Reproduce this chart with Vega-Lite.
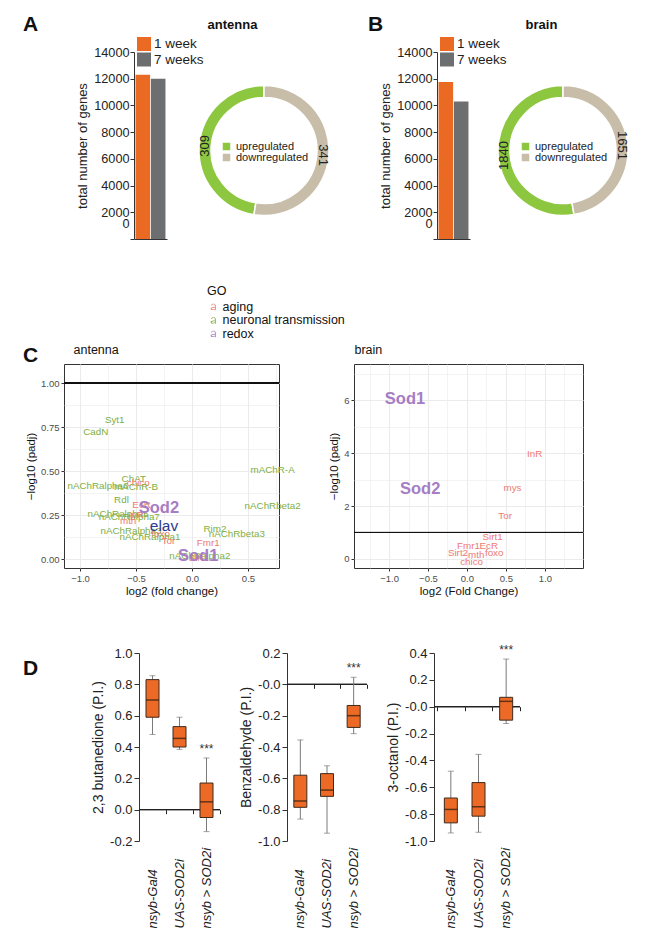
{
"$schema": "https://vega.github.io/schema/vega-lite/v6.json",
"background": "white",
"padding": {"left": 22, "top": 14, "right": 0, "bottom": 0},
"config": {"font": "Liberation Sans", "view": {"stroke": null}, "axis": {"labelFont": "Liberation Sans", "titleFont": "Liberation Sans"}, "legend": {"labelFont": "Liberation Sans", "titleFont": "Liberation Sans"}, "title": {"font": "Liberation Sans"}, "text": {"font": "Liberation Sans"}},
"datasets": {
 "bars": [
  {"tissue": "antenna", "week": "1 week", "genes": 12300},
  {"tissue": "antenna", "week": "7 weeks", "genes": 12000},
  {"tissue": "brain", "week": "1 week", "genes": 11750},
  {"tissue": "brain", "week": "7 weeks", "genes": 10300}
 ],
 "donut": [
  {"tissue": "antenna", "dir": "upregulated", "n": 309},
  {"tissue": "antenna", "dir": "downregulated", "n": 341},
  {"tissue": "brain", "dir": "upregulated", "n": 1840},
  {"tissue": "brain", "dir": "downregulated", "n": 1651}
 ],
 "volcano": [
  {"tissue": "antenna", "gene": "Syt1", "GO": "neuronal transmission", "lfc": -0.69, "nlp": 0.79},
  {"tissue": "antenna", "gene": "CadN", "GO": "neuronal transmission", "lfc": -0.86, "nlp": 0.72},
  {"tissue": "antenna", "gene": "mAChR-A", "GO": "neuronal transmission", "lfc": 0.72, "nlp": 0.505},
  {"tissue": "antenna", "gene": "nAChRbeta2", "GO": "neuronal transmission", "lfc": 0.72, "nlp": 0.30},
  {"tissue": "antenna", "gene": "nAChRalpha6", "GO": "neuronal transmission", "lfc": -0.84, "nlp": 0.415},
  {"tissue": "antenna", "gene": "ChAT", "GO": "neuronal transmission", "lfc": -0.52, "nlp": 0.455},
  {"tissue": "antenna", "gene": "chico", "GO": "aging", "lfc": -0.48, "nlp": 0.43},
  {"tissue": "antenna", "gene": "mAChR-B", "GO": "neuronal transmission", "lfc": -0.50, "nlp": 0.41},
  {"tissue": "antenna", "gene": "Rdl", "GO": "neuronal transmission", "lfc": -0.63, "nlp": 0.335},
  {"tissue": "antenna", "gene": "EcR", "GO": "aging", "lfc": -0.45, "nlp": 0.305},
  {"tissue": "antenna", "gene": "nAChRalpha5", "GO": "neuronal transmission", "lfc": -0.66, "nlp": 0.255},
  {"tissue": "antenna", "gene": "nAChRalpha7", "GO": "neuronal transmission", "lfc": -0.56, "nlp": 0.24},
  {"tissue": "antenna", "gene": "InR", "GO": "aging", "lfc": -0.5, "nlp": 0.25},
  {"tissue": "antenna", "gene": "mth", "GO": "aging", "lfc": -0.57, "nlp": 0.215},
  {"tissue": "antenna", "gene": "nAChRalpha3", "GO": "neuronal transmission", "lfc": -0.545, "nlp": 0.16},
  {"tissue": "antenna", "gene": "foxo", "GO": "aging", "lfc": -0.28, "nlp": 0.14},
  {"tissue": "antenna", "gene": "nAChRalpha1", "GO": "neuronal transmission", "lfc": -0.375, "nlp": 0.125},
  {"tissue": "antenna", "gene": "Tor", "GO": "aging", "lfc": -0.21, "nlp": 0.10},
  {"tissue": "antenna", "gene": "Rim2", "GO": "neuronal transmission", "lfc": 0.205, "nlp": 0.17},
  {"tissue": "antenna", "gene": "nAChRbeta3", "GO": "neuronal transmission", "lfc": 0.40, "nlp": 0.14},
  {"tissue": "antenna", "gene": "Fmr1", "GO": "aging", "lfc": 0.145, "nlp": 0.09},
  {"tissue": "antenna", "gene": "nAChRalpha2", "GO": "neuronal transmission", "lfc": 0.07, "nlp": 0.02},
  {"tissue": "antenna", "gene": "Sirt1", "GO": "aging", "lfc": 0.06, "nlp": 0.005},
  {"tissue": "antenna", "gene": "elav", "GO": "neuronal transmission", "lfc": -0.25, "nlp": 0.19},
  {"tissue": "antenna", "gene": "Sod2", "GO": "redox", "lfc": -0.295, "nlp": 0.29},
  {"tissue": "antenna", "gene": "Sod1", "GO": "redox", "lfc": 0.055, "nlp": 0.02},
  {"tissue": "brain", "gene": "InR", "GO": "aging", "lfc": 0.87, "nlp": 3.96},
  {"tissue": "brain", "gene": "mys", "GO": "aging", "lfc": 0.585, "nlp": 2.68},
  {"tissue": "brain", "gene": "Tor", "GO": "aging", "lfc": 0.49, "nlp": 1.61},
  {"tissue": "brain", "gene": "Sirt1", "GO": "aging", "lfc": 0.33, "nlp": 0.83},
  {"tissue": "brain", "gene": "Fmr1", "GO": "aging", "lfc": 0.02, "nlp": 0.48},
  {"tissue": "brain", "gene": "EcR", "GO": "aging", "lfc": 0.28, "nlp": 0.48},
  {"tissue": "brain", "gene": "Sirt2", "GO": "aging", "lfc": -0.115, "nlp": 0.24},
  {"tissue": "brain", "gene": "mth", "GO": "aging", "lfc": 0.12, "nlp": 0.16},
  {"tissue": "brain", "gene": "foxo", "GO": "aging", "lfc": 0.35, "nlp": 0.23},
  {"tissue": "brain", "gene": "chico", "GO": "aging", "lfc": 0.06, "nlp": -0.11},
  {"tissue": "brain", "gene": "Sod1", "GO": "redox", "lfc": -0.795, "nlp": 6.05},
  {"tissue": "brain", "gene": "Sod2", "GO": "redox", "lfc": -0.60, "nlp": 2.63}
 ],
 "box": [
  {"odor": "butanedione", "genotype": "nsyb-Gal4", "lo": 0.48, "q1": 0.59, "med": 0.70, "q3": 0.83, "hi": 0.855, "sig": ""},
  {"odor": "butanedione", "genotype": "UAS-SOD2i", "lo": 0.385, "q1": 0.40, "med": 0.455, "q3": 0.53, "hi": 0.59, "sig": ""},
  {"odor": "butanedione", "genotype": "nsyb > SOD2i", "lo": -0.14, "q1": -0.05, "med": 0.05, "q3": 0.17, "hi": 0.33, "sig": "***"},
  {"odor": "benzaldehyde", "genotype": "nsyb-Gal4", "lo": -0.86, "q1": -0.785, "med": -0.745, "q3": -0.58, "hi": -0.355, "sig": ""},
  {"odor": "benzaldehyde", "genotype": "UAS-SOD2i", "lo": -0.95, "q1": -0.715, "med": -0.675, "q3": -0.57, "hi": -0.52, "sig": ""},
  {"odor": "benzaldehyde", "genotype": "nsyb > SOD2i", "lo": -0.315, "q1": -0.275, "med": -0.20, "q3": -0.135, "hi": 0.045, "sig": "***"},
  {"odor": "octanol", "genotype": "nsyb-Gal4", "lo": -0.94, "q1": -0.865, "med": -0.765, "q3": -0.68, "hi": -0.48, "sig": ""},
  {"odor": "octanol", "genotype": "UAS-SOD2i", "lo": -0.935, "q1": -0.815, "med": -0.745, "q3": -0.565, "hi": -0.355, "sig": ""},
  {"odor": "octanol", "genotype": "nsyb > SOD2i", "lo": -0.125, "q1": -0.10, "med": 0.04, "q3": 0.07, "hi": 0.355, "sig": "***"}
 ]
},
"spacing": 35,
"resolve": {"scale": {"color": "independent"}, "legend": {"color": "independent"}},
"vconcat": [
 {
  "hconcat": [
   {"width": 27, "height": 10, "data": {"values": []}, "mark": "point"},
   {
    "width": 260, "height": 197,
    "title": {"text": "A", "anchor": "start", "frame": "group", "dx": -111, "dy": 21, "fontSize": 21, "fontWeight": "bold", "color": "#111111"},
    "resolve": {"scale": {"color": "independent"}, "legend": {"color": "independent"}},
    "layer": [
     {
      "data": {"name": "bars"},
      "transform": [{"filter": "datum.tissue == 'antenna'"}],
      "mark": {"type": "bar"},
      "encoding": {
       "x": {"field": "week", "type": "nominal", "scale": {"range": [0, 33], "paddingInner": 0.05, "paddingOuter": 0.1}, "axis": {"orient": "bottom", "offset": -10, "labels": false, "ticks": false, "title": null, "grid": false, "domainColor": "#333333"}},
       "y": {"field": "genes", "type": "quantitative", "scale": {"domain": [0, 14000], "range": [187, 0], "nice": false}, "axis": {"values": [0, 2000, 4000, 6000, 8000, 10000, 12000, 14000], "format": "d", "labelOverlap": false, "labelFlush": false, "title": "total number of genes", "titleFontSize": 13, "titleFontWeight": "normal", "titleColor": "#222222", "titlePadding": 4, "labelFontSize": 12.7, "labelColor": "#222222", "labelPadding": 1, "tickSize": 4, "tickColor": "#333333", "domainColor": "#333333", "grid": false, "labelOffset": {"condition": {"test": "datum.value == 0", "value": -16}, "value": 0}}},
       "color": {"field": "week", "type": "nominal", "scale": {"domain": ["1 week", "7 weeks"], "range": ["#EA6A24", "#6D6E70"]}, "legend": {"orient": "none", "legendX": 3, "legendY": -15, "title": null, "padding": 0, "symbolType": "square", "symbolSize": 196, "symbolStrokeWidth": 0, "labelFontSize": 13.5, "labelColor": "#222222", "labelOffset": 3, "rowPadding": 1.5}}
      }
     },
     {
      "data": {"name": "bars"},
      "transform": [{"filter": "datum.tissue == 'antenna'"}],
      "mark": {"type": "rule", "opacity": 0},
      "encoding": {"x": {"field": "week", "type": "nominal", "axis": {"orient": "top", "labels": false, "ticks": false, "domain": false, "grid": false, "title": "antenna", "titleX": 98, "titleY": -24, "titleAlign": "center", "titleBaseline": "alphabetic", "titleAngle": 0, "titleFontSize": 13, "titleFontWeight": "bold", "titleColor": "#111111"}}}
     },
     {
      "data": {"name": "donut"},
      "transform": [{"filter": "datum.tissue == 'antenna'"}],
      "encoding": {"theta": {"field": "n", "type": "quantitative", "stack": true}, "order": {"field": "dir", "sort": "ascending"}},
      "layer": [
       {"mark": {"type": "arc", "innerRadius": 53, "outerRadius": 65, "stroke": "#ffffff", "strokeWidth": 1.5},
        "encoding": {"color": {"field": "dir", "type": "nominal", "scale": {"domain": ["upregulated", "downregulated"], "range": ["#8DC63F", "#C8BDA8"]}, "legend": {"orient": "none", "legendX": 87, "legendY": 89, "title": null, "padding": 0, "symbolType": "square", "symbolSize": 56, "symbolStrokeWidth": 0, "labelFontSize": 11, "labelColor": "#222222", "labelOffset": 4, "rowPadding": -1}}}},
       {"mark": {"type": "text", "radius": 59, "fontSize": 13, "color": "#222222"},
        "encoding": {"detail": {"field": "dir"}, "text": {"field": "n", "type": "quantitative", "format": "d"}, "angle": {"condition": {"test": "datum.dir == 'upregulated'", "value": 270}, "value": 90}}}
      ]
     }
    ]
   },
   {
    "width": 252, "height": 197,
    "title": {"text": "B", "anchor": "start", "frame": "group", "dx": -69, "dy": 21, "fontSize": 21, "fontWeight": "bold", "color": "#111111"},
    "resolve": {"scale": {"color": "independent"}, "legend": {"color": "independent"}},
    "layer": [
     {
      "data": {"name": "bars"},
      "transform": [{"filter": "datum.tissue == 'brain'"}],
      "mark": {"type": "bar"},
      "encoding": {
       "x": {"field": "week", "type": "nominal", "scale": {"range": [0, 33], "paddingInner": 0.05, "paddingOuter": 0.1}, "axis": {"orient": "bottom", "offset": -10, "labels": false, "ticks": false, "title": null, "grid": false, "domainColor": "#333333"}},
       "y": {"field": "genes", "type": "quantitative", "scale": {"domain": [0, 14000], "range": [187, 0], "nice": false}, "axis": {"values": [0, 2000, 4000, 6000, 8000, 10000, 12000, 14000], "format": "d", "labelOverlap": false, "labelFlush": false, "title": "total number of genes", "titleFontSize": 13, "titleFontWeight": "normal", "titleColor": "#222222", "titlePadding": 4, "labelFontSize": 12.7, "labelColor": "#222222", "labelPadding": 1, "tickSize": 4, "tickColor": "#333333", "domainColor": "#333333", "grid": false, "labelOffset": {"condition": {"test": "datum.value == 0", "value": -16}, "value": 0}}},
       "color": {"field": "week", "type": "nominal", "scale": {"domain": ["1 week", "7 weeks"], "range": ["#EA6A24", "#6D6E70"]}, "legend": {"orient": "none", "legendX": 3, "legendY": -15, "title": null, "padding": 0, "symbolType": "square", "symbolSize": 196, "symbolStrokeWidth": 0, "labelFontSize": 13.5, "labelColor": "#222222", "labelOffset": 3, "rowPadding": 1.5}}
      }
     },
     {
      "data": {"name": "bars"},
      "transform": [{"filter": "datum.tissue == 'brain'"}],
      "mark": {"type": "rule", "opacity": 0},
      "encoding": {"x": {"field": "week", "type": "nominal", "axis": {"orient": "top", "labels": false, "ticks": false, "domain": false, "grid": false, "title": "brain", "titleX": 104, "titleY": -24, "titleAlign": "center", "titleBaseline": "alphabetic", "titleAngle": 0, "titleFontSize": 13, "titleFontWeight": "bold", "titleColor": "#111111"}}}
     },
     {
      "data": {"name": "donut"},
      "transform": [{"filter": "datum.tissue == 'brain'"}],
      "encoding": {"theta": {"field": "n", "type": "quantitative", "stack": true}, "order": {"field": "dir", "sort": "ascending"}},
      "layer": [
       {"mark": {"type": "arc", "innerRadius": 53, "outerRadius": 65, "stroke": "#ffffff", "strokeWidth": 1.5},
        "encoding": {"color": {"field": "dir", "type": "nominal", "scale": {"domain": ["upregulated", "downregulated"], "range": ["#8DC63F", "#C8BDA8"]}, "legend": {"orient": "none", "legendX": 83, "legendY": 89, "title": null, "padding": 0, "symbolType": "square", "symbolSize": 56, "symbolStrokeWidth": 0, "labelFontSize": 11, "labelColor": "#222222", "labelOffset": 4, "rowPadding": -1}}}},
       {"mark": {"type": "text", "radius": 59, "fontSize": 13, "color": "#222222"},
        "encoding": {"detail": {"field": "dir"}, "text": {"field": "n", "type": "quantitative", "format": "d"}, "angle": {"condition": {"test": "datum.dir == 'upregulated'", "value": 270}, "value": 90}}}
      ]
     }
    ]
   }
  ],
  "spacing": 43,
  "bounds": "flush"
 },
 {
  "resolve": {"scale": {"color": "independent"}, "legend": {"color": "independent"}},
  "hconcat": [
   {
    "width": 215, "height": 204,
    "view": {"stroke": "#333333", "strokeWidth": 1},
    "title": {"text": "C", "anchor": "start", "frame": "group", "dx": -41, "dy": 85, "fontSize": 21, "fontWeight": "bold", "color": "#111111"},
    "data": {"name": "volcano"},
    "transform": [{"filter": "datum.tissue == 'antenna'"}],
    "resolve": {"axis": {"x": "independent", "y": "independent"}},
    "layer": [
     {
      "mark": {"type": "rule", "color": "#111111", "strokeWidth": 1},
      "encoding": {"y": {"datum": 1, "type": "quantitative", "scale": {"domain": [-0.051, 1.108], "nice": false, "zero": false},
        "axis": {"values": [0, 0.125, 0.25, 0.375, 0.5, 0.625, 0.75, 0.875, 1], "labelExpr": "round(datum.value*4) == datum.value*4 ? format(datum.value, '.2f') : ''", "labelOverlap": false, "labelFlush": false, "grid": true, "gridColor": "#ebebeb", "gridWidth": {"condition": {"test": "round(datum.value*4) != datum.value*4", "value": 0.6}, "value": 1.1}, "tickOpacity": {"condition": {"test": "round(datum.value*4) != datum.value*4", "value": 0}, "value": 1}, "tickSize": 3, "tickColor": "#333333", "domain": false, "labelFontSize": 9.5, "labelColor": "#4d4d4d", "labelPadding": 2, "title": "−log10 (padj)", "titleFontSize": 11.5, "titleFontWeight": "normal", "titleColor": "#111111", "titlePadding": 4}}}
     },
     {
      "transform": [{"filter": "datum.gene != 'Sod1' && datum.gene != 'Sod2'"}],
      "mark": {"type": "text", "fontSize": 9.8},
      "encoding": {
       "x": {"field": "lfc", "type": "quantitative", "scale": {"domain": [-1.143, 0.777], "nice": false, "zero": false},
        "axis": {"orient": "bottom", "values": [-1, -0.75, -0.5, -0.25, 0, 0.25, 0.5, 0.75], "labelExpr": "round(datum.value*2) == datum.value*2 ? format(datum.value, '.1f') : ''", "labelOverlap": false, "labelFlush": false, "grid": true, "gridColor": "#ebebeb", "gridWidth": {"condition": {"test": "round(datum.value*2) != datum.value*2", "value": 0.6}, "value": 1.1}, "tickOpacity": {"condition": {"test": "round(datum.value*2) != datum.value*2", "value": 0}, "value": 1}, "tickSize": 3, "tickColor": "#333333", "domain": false, "labelFontSize": 9.5, "labelColor": "#4d4d4d", "labelPadding": 2, "title": "log2 (fold change)", "titleFontSize": 11.5, "titleFontWeight": "normal", "titleColor": "#111111", "titlePadding": 3}},
       "y": {"field": "nlp", "type": "quantitative", "axis": null},
       "text": {"field": "gene"},
       "size": {"condition": {"test": "datum.gene == 'elav'", "value": 15.5}, "value": 9.8},
       "color": {"condition": {"test": "datum.gene == 'elav'", "value": "#2B3990"}, "field": "GO", "type": "nominal", "scale": {"domain": ["aging", "neuronal transmission", "redox"], "range": ["#EE7A72", "#7EAE3F", "#A67DC4"]},
        "legend": {"orient": "none", "legendX": 143, "legendY": -79, "title": "GO", "padding": 0, "titleFontSize": 12.5, "titleFontWeight": "normal", "titleColor": "#111111", "titlePadding": 3, "labelFontSize": 12.5, "labelColor": "#111111", "labelOffset": 3, "rowPadding": 0.5, "symbolSize": 50, "symbolStrokeWidth": 0, "symbolOpacity": 1, "symbolType": "M0.45,-0.3 L0.72,-0.3 L0.72,1 L0.45,1 Z M-0.62,-0.4 C-0.55,-1.05 0.72,-1.05 0.72,-0.3 L0.45,-0.3 C0.45,-0.78 -0.3,-0.8 -0.36,-0.35 Z M0.5,0.05 C0.1,0.1 -0.75,0.05 -0.75,0.55 C-0.75,1.05 0.2,1.05 0.5,0.65 L0.5,0.4 C0.25,0.8 -0.48,0.85 -0.48,0.52 C-0.48,0.25 0.1,0.3 0.5,0.25 Z"}}
      }
     },
     {
      "transform": [{"filter": "datum.gene == 'Sod1' || datum.gene == 'Sod2'"}],
      "mark": {"type": "text", "fontSize": 16.5, "fontWeight": "bold"},
      "encoding": {
       "x": {"field": "lfc", "type": "quantitative", "axis": null},
       "y": {"field": "nlp", "type": "quantitative", "axis": null},
       "text": {"field": "gene"},
       "color": {"field": "GO", "type": "nominal", "legend": null}
      }
     },
     {
      "mark": {"type": "rule", "opacity": 0},
      "encoding": {"x": {"datum": 0, "type": "quantitative", "axis": {"orient": "top", "labels": false, "ticks": false, "domain": false, "grid": false, "title": "antenna", "titleX": 9, "titleY": -11, "titleAlign": "left", "titleBaseline": "alphabetic", "titleAngle": 0, "titleFontSize": 12.5, "titleFontWeight": "normal", "titleColor": "#111111"}}}
     }
    ]
   },
   {
    "width": 229, "height": 204,
    "view": {"stroke": "#333333", "strokeWidth": 1},
    "data": {"name": "volcano"},
    "transform": [{"filter": "datum.tissue == 'brain'"}],
    "resolve": {"axis": {"x": "independent", "y": "independent"}},
    "layer": [
     {
      "mark": {"type": "rule", "color": "#111111", "strokeWidth": 1},
      "encoding": {"y": {"datum": 1, "type": "quantitative", "scale": {"domain": [-0.34, 7.36], "nice": false, "zero": false},
        "axis": {"values": [0, 1, 2, 3, 4, 5, 6, 7], "labelExpr": "datum.value % 2 == 0 ? format(datum.value, 'd') : ''", "labelOverlap": false, "labelFlush": false, "grid": true, "gridColor": "#ebebeb", "gridWidth": {"condition": {"test": "datum.value % 2 != 0", "value": 0.6}, "value": 1.1}, "tickOpacity": {"condition": {"test": "datum.value % 2 != 0", "value": 0}, "value": 1}, "tickSize": 3, "tickColor": "#333333", "domain": false, "labelFontSize": 9.5, "labelColor": "#4d4d4d", "labelPadding": 2, "title": "−log10 (padj)", "titleFontSize": 11.5, "titleFontWeight": "normal", "titleColor": "#111111", "titlePadding": 4}}}
     },
     {
      "transform": [{"filter": "datum.gene != 'Sod1' && datum.gene != 'Sod2'"}],
      "mark": {"type": "text", "fontSize": 9.8},
      "encoding": {
       "x": {"field": "lfc", "type": "quantitative", "scale": {"domain": [-1.45, 1.49], "nice": false, "zero": false},
        "axis": {"orient": "bottom", "values": [-1.25, -1, -0.75, -0.5, -0.25, 0, 0.25, 0.5, 0.75, 1, 1.25], "labelExpr": "round(datum.value*2) == datum.value*2 ? format(datum.value, '.1f') : ''", "labelOverlap": false, "labelFlush": false, "grid": true, "gridColor": "#ebebeb", "gridWidth": {"condition": {"test": "round(datum.value*2) != datum.value*2", "value": 0.6}, "value": 1.1}, "tickOpacity": {"condition": {"test": "round(datum.value*2) != datum.value*2", "value": 0}, "value": 1}, "tickSize": 3, "tickColor": "#333333", "domain": false, "labelFontSize": 9.5, "labelColor": "#4d4d4d", "labelPadding": 2, "title": "log2 (Fold Change)", "titleFontSize": 11.5, "titleFontWeight": "normal", "titleColor": "#111111", "titlePadding": 3}},
       "y": {"field": "nlp", "type": "quantitative", "axis": null},
       "text": {"field": "gene"},
       "color": {"field": "GO", "type": "nominal", "scale": {"domain": ["aging", "neuronal transmission", "redox"], "range": ["#EE7A72", "#7EAE3F", "#A67DC4"]}, "legend": null}
      }
     },
     {
      "transform": [{"filter": "datum.gene == 'Sod1' || datum.gene == 'Sod2'"}],
      "mark": {"type": "text", "fontSize": 16.5, "fontWeight": "bold"},
      "encoding": {
       "x": {"field": "lfc", "type": "quantitative", "axis": null},
       "y": {"field": "nlp", "type": "quantitative", "axis": null},
       "text": {"field": "gene"},
       "color": {"field": "GO", "type": "nominal", "legend": null}
      }
     },
     {
      "mark": {"type": "rule", "opacity": 0},
      "encoding": {"x": {"datum": 0, "type": "quantitative", "axis": {"orient": "top", "labels": false, "ticks": false, "domain": false, "grid": false, "title": "brain", "titleX": 0, "titleY": -11, "titleAlign": "left", "titleBaseline": "alphabetic", "titleAngle": 0, "titleFontSize": 12.5, "titleFontWeight": "normal", "titleColor": "#111111"}}}
     }
    ]
   }
  ],
  "spacing": 75,
  "bounds": "flush"
 },
 {
  "hconcat": [
   {"width": 8, "height": 10, "data": {"values": []}, "mark": "point"},
   {
    "width": 81, "height": 208,
    "title": {"text": "D", "anchor": "start", "frame": "group", "dx": -116, "dy": 50, "fontSize": 21, "fontWeight": "bold", "color": "#111111"},
    "data": {"name": "box"},
    "transform": [{"filter": "datum.odor == 'butanedione'"}],
    "resolve": {"axis": {"x": "independent", "y": "independent"}},
    "layer": [
     {"mark": {"type": "rule", "color": "#222222", "strokeWidth": 1},
      "encoding": {"y": {"datum": 0, "type": "quantitative", "scale": {"domain": [-0.2, 1.0], "range": [208, 20], "nice": false, "zero": false},
       "axis": {"values": [-0.2, 0, 0.2, 0.4, 0.6, 0.8, 1], "labelExpr": "replace(format(datum.value, '.1f'), '−', '-')", "labelOverlap": false, "labelFlush": false, "title": "2,3 butanedione (P.I.)", "titleFontSize": 14, "titleFontWeight": "normal", "titleColor": "#222222", "titlePadding": 4, "labelFontSize": 13, "labelColor": "#222222", "labelPadding": 2, "tickSize": 5, "tickColor": "#333333", "domainColor": "#333333", "grid": false}}}},
     {"mark": {"type": "rule", "opacity": 0},
      "encoding": {"x": {"field": "genotype", "type": "nominal", "sort": ["nsyb-Gal4", "UAS-SOD2i", "nsyb > SOD2i"], "axis": {"orient": "bottom", "offset": -31.3, "labels": false, "domain": false, "ticks": true, "tickBand": "extent", "tickSize": 4, "tickColor": "#222222", "title": null, "grid": false}}}},
     {"mark": {"type": "rule", "color": "#7a7a7a", "strokeWidth": 1},
      "encoding": {"x": {"field": "genotype", "type": "nominal", "sort": ["nsyb-Gal4", "UAS-SOD2i", "nsyb > SOD2i"], "scale": {"range": [0, 81], "paddingInner": 0, "paddingOuter": 0},
        "axis": {"orient": "bottom", "labelAngle": 270, "labelAlign": "left", "labelBaseline": "middle", "labelPadding": 87, "ticks": false, "domain": false, "grid": false, "title": null, "labelFontStyle": "italic", "labelFontSize": 13, "labelColor": "#222222", "labelLimit": 200}},
       "y": {"field": "lo", "type": "quantitative", "axis": null}, "y2": {"field": "hi"}}},
     {"mark": {"type": "tick", "color": "#7a7a7a", "size": 6, "thickness": 1},
      "encoding": {"x": {"field": "genotype", "type": "nominal", "sort": ["nsyb-Gal4", "UAS-SOD2i", "nsyb > SOD2i"], "axis": null}, "y": {"field": "lo", "type": "quantitative", "axis": null}}},
     {"mark": {"type": "tick", "color": "#7a7a7a", "size": 6, "thickness": 1},
      "encoding": {"x": {"field": "genotype", "type": "nominal", "sort": ["nsyb-Gal4", "UAS-SOD2i", "nsyb > SOD2i"], "axis": null}, "y": {"field": "hi", "type": "quantitative", "axis": null}}},
     {"mark": {"type": "bar", "size": 13, "fill": "#EC6A25", "stroke": "#3d2a1e", "strokeWidth": 1},
      "encoding": {"x": {"field": "genotype", "type": "nominal", "sort": ["nsyb-Gal4", "UAS-SOD2i", "nsyb > SOD2i"], "axis": null}, "y": {"field": "q1", "type": "quantitative", "axis": null}, "y2": {"field": "q3"}}},
     {"mark": {"type": "tick", "color": "#2a1a10", "size": 13, "thickness": 1.5},
      "encoding": {"x": {"field": "genotype", "type": "nominal", "sort": ["nsyb-Gal4", "UAS-SOD2i", "nsyb > SOD2i"], "axis": null}, "y": {"field": "med", "type": "quantitative", "axis": null}}},
     {"mark": {"type": "text", "dy": -9, "fontSize": 12, "color": "#333333"},
      "encoding": {"x": {"field": "genotype", "type": "nominal", "sort": ["nsyb-Gal4", "UAS-SOD2i", "nsyb > SOD2i"], "axis": null}, "y": {"field": "hi", "type": "quantitative", "axis": null}, "text": {"field": "sig"}}}
    ]
   },
   {
    "width": 80, "height": 208,
    "data": {"name": "box"},
    "transform": [{"filter": "datum.odor == 'benzaldehyde'"}],
    "resolve": {"axis": {"x": "independent", "y": "independent"}},
    "layer": [
     {"mark": {"type": "rule", "color": "#222222", "strokeWidth": 1},
      "encoding": {"y": {"datum": 0, "type": "quantitative", "scale": {"domain": [-1.0, 0.2], "range": [208, 20], "nice": false, "zero": false},
       "axis": {"values": [-1, -0.8, -0.6, -0.4, -0.2, 0, 0.2], "labelExpr": "datum.value == 0 ? '-0.0' : replace(format(datum.value, '.1f'), '−', '-')", "labelOverlap": false, "labelFlush": false, "title": "Benzaldehyde (P.I.)", "titleFontSize": 14, "titleFontWeight": "normal", "titleColor": "#222222", "titlePadding": 4, "labelFontSize": 13, "labelColor": "#222222", "labelPadding": 2, "tickSize": 5, "tickColor": "#333333", "domainColor": "#333333", "grid": false}}}},
     {"mark": {"type": "rule", "opacity": 0},
      "encoding": {"x": {"field": "genotype", "type": "nominal", "sort": ["nsyb-Gal4", "UAS-SOD2i", "nsyb > SOD2i"], "axis": {"orient": "bottom", "offset": -156.7, "labels": false, "domain": false, "ticks": true, "tickBand": "extent", "tickSize": 4, "tickColor": "#222222", "title": null, "grid": false}}}},
     {"mark": {"type": "rule", "color": "#7a7a7a", "strokeWidth": 1},
      "encoding": {"x": {"field": "genotype", "type": "nominal", "sort": ["nsyb-Gal4", "UAS-SOD2i", "nsyb > SOD2i"], "scale": {"range": [0, 80], "paddingInner": 0, "paddingOuter": 0},
        "axis": {"orient": "bottom", "labelAngle": 270, "labelAlign": "left", "labelBaseline": "middle", "labelPadding": 87, "ticks": false, "domain": false, "grid": false, "title": null, "labelFontStyle": "italic", "labelFontSize": 13, "labelColor": "#222222", "labelLimit": 200}},
       "y": {"field": "lo", "type": "quantitative", "axis": null}, "y2": {"field": "hi"}}},
     {"mark": {"type": "tick", "color": "#7a7a7a", "size": 6, "thickness": 1},
      "encoding": {"x": {"field": "genotype", "type": "nominal", "sort": ["nsyb-Gal4", "UAS-SOD2i", "nsyb > SOD2i"], "axis": null}, "y": {"field": "lo", "type": "quantitative", "axis": null}}},
     {"mark": {"type": "tick", "color": "#7a7a7a", "size": 6, "thickness": 1},
      "encoding": {"x": {"field": "genotype", "type": "nominal", "sort": ["nsyb-Gal4", "UAS-SOD2i", "nsyb > SOD2i"], "axis": null}, "y": {"field": "hi", "type": "quantitative", "axis": null}}},
     {"mark": {"type": "bar", "size": 13, "fill": "#EC6A25", "stroke": "#3d2a1e", "strokeWidth": 1},
      "encoding": {"x": {"field": "genotype", "type": "nominal", "sort": ["nsyb-Gal4", "UAS-SOD2i", "nsyb > SOD2i"], "axis": null}, "y": {"field": "q1", "type": "quantitative", "axis": null}, "y2": {"field": "q3"}}},
     {"mark": {"type": "tick", "color": "#2a1a10", "size": 13, "thickness": 1.5},
      "encoding": {"x": {"field": "genotype", "type": "nominal", "sort": ["nsyb-Gal4", "UAS-SOD2i", "nsyb > SOD2i"], "axis": null}, "y": {"field": "med", "type": "quantitative", "axis": null}}},
     {"mark": {"type": "text", "dy": -9, "fontSize": 12, "color": "#333333"},
      "encoding": {"x": {"field": "genotype", "type": "nominal", "sort": ["nsyb-Gal4", "UAS-SOD2i", "nsyb > SOD2i"], "axis": null}, "y": {"field": "hi", "type": "quantitative", "axis": null}, "text": {"field": "sig"}}}
    ]
   },
   {
    "width": 86, "height": 208,
    "data": {"name": "box"},
    "transform": [{"filter": "datum.odor == 'octanol'"}],
    "resolve": {"axis": {"x": "independent", "y": "independent"}},
    "layer": [
     {"mark": {"type": "rule", "color": "#222222", "strokeWidth": 1},
      "encoding": {"y": {"datum": 0, "type": "quantitative", "scale": {"domain": [-1.0, 0.4], "range": [208, 20], "nice": false, "zero": false},
       "axis": {"values": [-1, -0.8, -0.6, -0.4, -0.2, 0, 0.2, 0.4], "labelExpr": "datum.value == 0 ? '-0.0' : replace(format(datum.value, '.1f'), '−', '-')", "labelOverlap": false, "labelFlush": false, "title": "3-octanol (P.I.)", "titleFontSize": 14, "titleFontWeight": "normal", "titleColor": "#222222", "titlePadding": 4, "labelFontSize": 13, "labelColor": "#222222", "labelPadding": 2, "tickSize": 5, "tickColor": "#333333", "domainColor": "#333333", "grid": false}}}},
     {"mark": {"type": "rule", "opacity": 0},
      "encoding": {"x": {"field": "genotype", "type": "nominal", "sort": ["nsyb-Gal4", "UAS-SOD2i", "nsyb > SOD2i"], "axis": {"orient": "bottom", "offset": -134.3, "labels": false, "domain": false, "ticks": true, "tickBand": "extent", "tickSize": 4, "tickColor": "#222222", "title": null, "grid": false}}}},
     {"mark": {"type": "rule", "color": "#7a7a7a", "strokeWidth": 1},
      "encoding": {"x": {"field": "genotype", "type": "nominal", "sort": ["nsyb-Gal4", "UAS-SOD2i", "nsyb > SOD2i"], "scale": {"range": [3, 86], "paddingInner": 0, "paddingOuter": 0},
        "axis": {"orient": "bottom", "labelAngle": 270, "labelAlign": "left", "labelBaseline": "middle", "labelPadding": 87, "ticks": false, "domain": false, "grid": false, "title": null, "labelFontStyle": "italic", "labelFontSize": 13, "labelColor": "#222222", "labelLimit": 200}},
       "y": {"field": "lo", "type": "quantitative", "axis": null}, "y2": {"field": "hi"}}},
     {"mark": {"type": "tick", "color": "#7a7a7a", "size": 6, "thickness": 1},
      "encoding": {"x": {"field": "genotype", "type": "nominal", "sort": ["nsyb-Gal4", "UAS-SOD2i", "nsyb > SOD2i"], "axis": null}, "y": {"field": "lo", "type": "quantitative", "axis": null}}},
     {"mark": {"type": "tick", "color": "#7a7a7a", "size": 6, "thickness": 1},
      "encoding": {"x": {"field": "genotype", "type": "nominal", "sort": ["nsyb-Gal4", "UAS-SOD2i", "nsyb > SOD2i"], "axis": null}, "y": {"field": "hi", "type": "quantitative", "axis": null}}},
     {"mark": {"type": "bar", "size": 13, "fill": "#EC6A25", "stroke": "#3d2a1e", "strokeWidth": 1},
      "encoding": {"x": {"field": "genotype", "type": "nominal", "sort": ["nsyb-Gal4", "UAS-SOD2i", "nsyb > SOD2i"], "axis": null}, "y": {"field": "q1", "type": "quantitative", "axis": null}, "y2": {"field": "q3"}}},
     {"mark": {"type": "tick", "color": "#2a1a10", "size": 13, "thickness": 1.5},
      "encoding": {"x": {"field": "genotype", "type": "nominal", "sort": ["nsyb-Gal4", "UAS-SOD2i", "nsyb > SOD2i"], "axis": null}, "y": {"field": "med", "type": "quantitative", "axis": null}}},
     {"mark": {"type": "text", "dy": -9, "fontSize": 12, "color": "#333333"},
      "encoding": {"x": {"field": "genotype", "type": "nominal", "sort": ["nsyb-Gal4", "UAS-SOD2i", "nsyb > SOD2i"], "axis": null}, "y": {"field": "hi", "type": "quantitative", "axis": null}, "text": {"field": "sig"}}}
    ]
   }
  ],
  "spacing": 67,
  "bounds": "flush"
 }
]
}
